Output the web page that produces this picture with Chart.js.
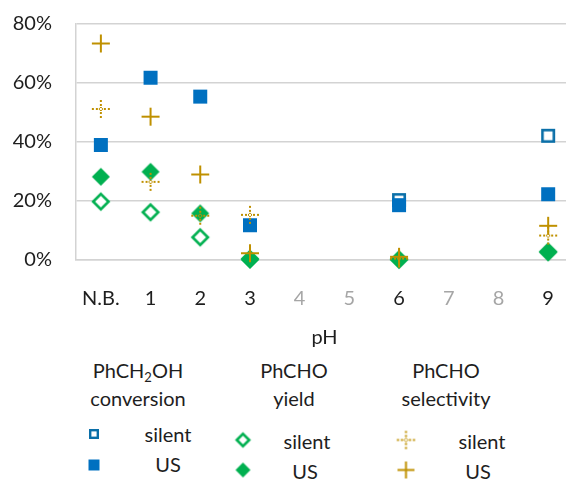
<!DOCTYPE html>
<html>
<head>
<meta charset="utf-8">
<script src="https://cdn.jsdelivr.net/npm/chart.js@4/dist/chart.umd.min.js"></script>
<style>
body{margin:0;overflow:hidden;background:#fff;font-family:Lato, sans-serif;color:#1e1e1e;}
#wrap{position:relative;width:566px;height:481px;overflow:hidden;}
#chart{position:absolute;left:0;top:0;}
.lg{position:absolute;font-size:20px;line-height:1;white-space:nowrap;transform:translate(-50%,-50%);}
.lg sub{font-size:13px;vertical-align:-4px;line-height:0;}
.mk{position:absolute;transform:translate(-50%,-50%);}
</style>
</head>
<body>
<div id="wrap">
<canvas id="chart" width="583" height="357"></canvas>
<div id="legend"></div>
</div>
<script>
// pH categories (x axis)
var labels = ['N.B.', '1', '2', '3', '4', '5', '6', '7', '8', '9'];
var grey_ticks = ['4', '5', '7', '8'];
var y_ticks = [0, 20, 40, 60, 80];

// values in %
var conv_silent = [null, null, null, null, null, null, 20.3, null, null, 42.1];
var conv_us     = [39.0, 61.8, 55.4, 11.8, null, null, 18.6, null, null, 22.3];
var yield_silent= [19.8, 16.2, 7.7, 0.4, null, null, 0.2, null, null, 2.8];
var yield_us    = [28.2, 29.9, 15.8, 0.0, null, null, 0.0, null, null, 2.6];
var sel_silent  = [51.2, 26.5, 15.0, 15.3, null, null, 0.5, null, null, 8.3];
var sel_us      = [73.4, 48.6, 29.0, 2.3, null, null, 1.1, null, null, 11.6];

var BLUE = '#0070C0';
var BLUE_DARK = '#0A6FA8';
var GREEN = '#00B050';
var GOLD = '#BF9000';
var GRID = '#d3d3d3';
var TEXT = '#1e1e1e';
var NONE = 'rgba(0,0,0,0)';

//Draw one marker into a small canvas
function make_marker(kind, size){
    var pad = 3;
    var c = document.createElement('canvas');
    c.width = c.height = size + pad * 2;
    var ctx = c.getContext('2d');
    var m = c.width / 2;
    var h = size / 2;
    var lw;
    if(kind == 'sq_open'){
        lw = size > 10 ? 2.6 : 2.4;
        ctx.fillStyle = '#fff';
        ctx.strokeStyle = BLUE_DARK;
        ctx.lineWidth = lw;
        ctx.fillRect(m - h, m - h, size, size);
        ctx.strokeRect(m - h + lw / 2, m - h + lw / 2, size - lw, size - lw);
    }
    else if(kind == 'sq_fill'){
        ctx.fillStyle = BLUE;
        ctx.fillRect(m - h, m - h, size, size);
    }
    else if(kind == 'dia_open' || kind == 'dia_fill'){
        lw = 2.6;
        var r = kind == 'dia_open' ? h - lw / 2 : h;
        ctx.beginPath();
        ctx.moveTo(m, m - r);
        ctx.lineTo(m + r, m);
        ctx.lineTo(m, m + r);
        ctx.lineTo(m - r, m);
        ctx.closePath();
        if(kind == 'dia_open'){
            ctx.fillStyle = '#fff';
            ctx.fill();
            ctx.strokeStyle = GREEN;
            ctx.lineWidth = lw;
            ctx.stroke();
        }else{
            ctx.fillStyle = GREEN;
            ctx.fill();
        }
    }
    else if(kind == 'plus'){
        ctx.strokeStyle = GOLD;
        ctx.lineWidth = 2;
        ctx.beginPath();
        ctx.moveTo(m - h, m); ctx.lineTo(m + h, m);
        ctx.moveTo(m, m - h); ctx.lineTo(m, m + h);
        ctx.stroke();
    }
    else if(kind == 'plus_dot'){
        ctx.fillStyle = GOLD;
        var step = h / 2.2;
        for(var i = 1; i <= 2; i++){
            var d = Math.round(step * i);
            ctx.fillRect(m + d - 1, m - 1, 2, 2);
            ctx.fillRect(m - d - 1, m - 1, 2, 2);
            ctx.fillRect(m - 1, m + d - 1, 2, 2);
            ctx.fillRect(m - 1, m - d - 1, 2, 2);
        }
        ctx.strokeStyle = GOLD;
        ctx.lineWidth = 1;
        ctx.beginPath();
        ctx.moveTo(m, m - 2); ctx.lineTo(m + 2, m); ctx.lineTo(m, m + 2); ctx.lineTo(m - 2, m);
        ctx.closePath();
        ctx.stroke();
    }
    return c;
}

var series = [
    {data: conv_silent, kind: 'sq_open', size: 14},
    {data: conv_us, kind: 'sq_fill', size: 14},
    {data: yield_silent, kind: 'dia_open', size: 18},
    {data: yield_us, kind: 'dia_fill', size: 18},
    {data: sel_silent, kind: 'plus_dot', size: 18},
    {data: sel_us, kind: 'plus', size: 18}
];

var datasets = [];
for(var i = 0; i < series.length; i++){
    datasets.push({
        data: series[i].data,
        showLine: false,
        pointStyle: make_marker(series[i].kind, series[i].size),
        pointRadius: 9,
        clip: false,
        order: series.length - i   // later series on top, like Excel
    });
}

var font = {family: 'Lato', size: 20};

new Chart(document.getElementById('chart'), {
    type: 'line',
    data: {labels: labels, datasets: datasets},
    options: {
        responsive: false,
        animation: false,
        devicePixelRatio: 1,
        layout: {padding: {top: 24, left: 0, right: 0, bottom: 0}},
        plugins: {legend: {display: false}, tooltip: {enabled: false}},
        scales: {
            x: {
                offset: true,
                // invisible tick marks used as the gap under the axis
                grid: {color: NONE, tickColor: NONE, drawTicks: true, tickLength: 27},
                border: {display: true, color: GRID, width: 1.5},
                ticks: {
                    padding: 0,
                    autoSkip: false,
                    maxRotation: 0,
                    font: font,
                    color: function(c){
                        return grey_ticks.indexOf(labels[c.index]) >= 0 ? '#a6a6a6' : TEXT;
                    }
                },
                title: {display: true, text: 'pH', font: font, color: TEXT, padding: {top: 0, bottom: 7}},
                afterFit: function(axis){ axis.height = 97; }
            },
            y: {
                min: y_ticks[0],
                max: y_ticks[y_ticks.length - 1],
                grid: {color: GRID, lineWidth: 1.5, tickColor: NONE, drawTicks: true, tickLength: 24},
                border: {display: true, color: GRID, width: 1.5},
                ticks: {
                    stepSize: y_ticks[1] - y_ticks[0],
                    padding: 0,
                    font: font,
                    color: TEXT,
                    callback: function(v){ return v + '%'; }
                },
                afterFit: function(axis){ axis.width = 76; }
            }
        }
    }
});

//Legend (three groups, built as html)
var legend = document.getElementById('legend');
function add_text(html, x, y){
    var d = document.createElement('div');
    d.className = 'lg';
    d.innerHTML = html;
    d.style.left = x + 'px';
    d.style.top = y + 'px';
    legend.appendChild(d);
}
function add_marker(kind, size, x, y){
    var c = make_marker(kind, size);
    c.className = 'mk';
    c.style.left = x + 'px';
    c.style.top = y + 'px';
    legend.appendChild(c);
}

add_text('PhCH<sub>2</sub>OH', 138, 370);
add_text('conversion', 138, 398);
add_marker('sq_open', 10, 94, 434);
add_text('silent', 168, 434);
add_marker('sq_fill', 11, 94, 465);
add_text('US', 168, 464);

add_text('PhCHO', 294, 370);
add_text('yield', 294, 398);
add_marker('dia_open', 15, 243, 440);
add_text('silent', 307, 441);
add_marker('dia_fill', 15, 243, 470);
add_text('US', 305, 471);

add_text('PhCHO', 446, 370);
add_text('selectivity', 446, 398);
add_marker('plus_dot', 17, 406, 440);
add_text('silent', 482, 441);
add_marker('plus', 17, 406, 470);
add_text('US', 478, 471);
</script>
</body>
</html>
